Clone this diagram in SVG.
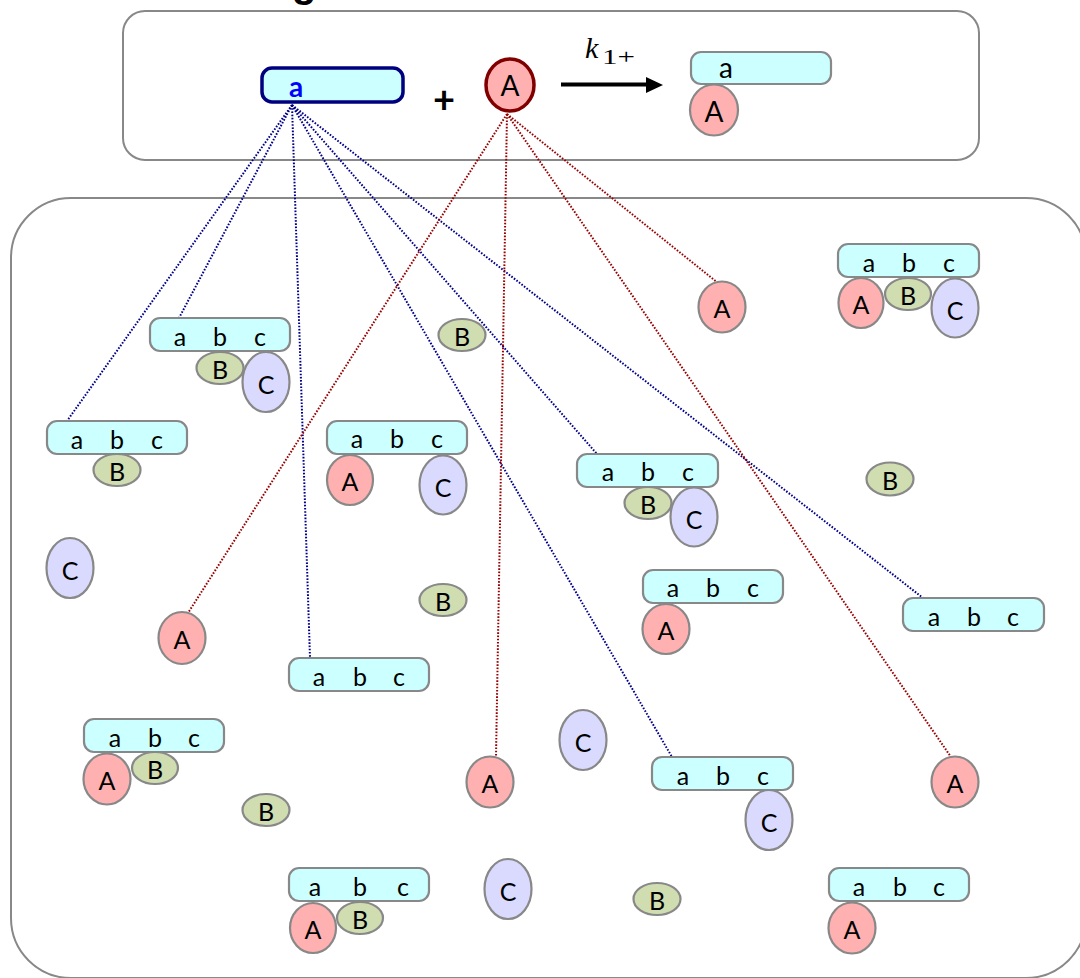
<svg xmlns="http://www.w3.org/2000/svg" width="1080" height="978" viewBox="0 0 1080 978">
<style>
.cont{fill:#fff;stroke:#888;stroke-width:2}
.bar{fill:#ccffff;stroke:#888;stroke-width:2.2}
.pa{fill:#ffb0b0;stroke:#888;stroke-width:2.2}
.pb{fill:#cfddb0;stroke:#888;stroke-width:2.2}
.pc{fill:#dadaff;stroke:#888;stroke-width:2.2}
.t{font-family:Lato,"Liberation Sans",sans-serif;font-size:25px;fill:#000;text-anchor:middle}
.tb{font-family:Lato,"Liberation Sans",sans-serif;font-size:28px;fill:#000;text-anchor:middle}
.nv{stroke:#00008b;stroke-width:2;stroke-dasharray:1.6 1.6;fill:none}
.rd{stroke:#990000;stroke-width:2;stroke-dasharray:1.6 1.6;fill:none}
</style>
<rect x="0" y="0" width="1080" height="978" fill="#fff"/>
<text x="292" y="-3" font-family="Liberation Sans, sans-serif" font-weight="bold" font-size="40" fill="#000">g</text>
<g id="reaction-box">
<rect class="cont" x="123" y="11" width="856" height="149" rx="22"/>
</g>
<g id="cell-box">
<rect class="cont" x="11" y="198" width="1075" height="780" rx="60"/>
</g>
<g id="connectors">
<line class="nv" x1="292" y1="105" x2="67" y2="421"/>
<line class="nv" x1="292" y1="105" x2="179" y2="318"/>
<line class="nv" x1="292" y1="105" x2="310" y2="658"/>
<line class="nv" x1="292" y1="105" x2="597" y2="454"/>
<line class="nv" x1="292" y1="105" x2="923" y2="598"/>
<line class="nv" x1="292" y1="105" x2="672" y2="757"/>
<line class="rd" x1="507" y1="114" x2="188" y2="613"/>
<line class="rd" x1="507" y1="114" x2="496" y2="757"/>
<line class="rd" x1="507" y1="114" x2="718" y2="283"/>
<line class="rd" x1="507" y1="114" x2="951" y2="757"/>
</g>
<g id="reactant-a">
<rect x="262" y="68" width="141" height="34" rx="10" fill="#ccffff" stroke="#00007f" stroke-width="3.5"/>
<text x="296" y="97" font-family="Lato, Liberation Sans, sans-serif" font-weight="bold" font-size="28" fill="#0000ff" text-anchor="middle">a</text>
</g>
<g id="plus">
<text x="444" y="113" font-family="Lato, Liberation Sans, sans-serif" font-weight="bold" font-size="38" fill="#000" text-anchor="middle">+</text>
</g>
<g id="reactant-A">
<ellipse cx="510" cy="85" rx="24" ry="26" fill="#ffb0b0" stroke="#800000" stroke-width="3.5"/>
<text class="tb" x="510" y="96">A</text>
</g>
<g id="rate-arrow">
<line x1="561" y1="84.5" x2="649" y2="84.5" stroke="#000" stroke-width="4"/>
<polygon points="646,77 663,85 646,93" fill="#000"/>
<text x="585" y="58" font-family="Liberation Serif, serif" font-style="italic" font-size="30" fill="#000">k</text>
<text x="602" y="64" font-family="Liberation Serif, serif" font-size="22" fill="#000" textLength="33" lengthAdjust="spacingAndGlyphs">1+</text>
</g>
<g id="product">
<rect class="bar" x="691" y="52" width="140" height="32" rx="10"/>
<text class="tb" x="726" y="78">a</text>
<ellipse class="pa" cx="714" cy="110" rx="24" ry="25.5"/>
<text class="tb" x="714" y="122">A</text>
</g>
<g id="n1">
<rect class="bar" x="150" y="318" width="140" height="33" rx="10"/>
<text class="t" x="180 200 220 240 260" y="346">a b c</text>
<ellipse class="pb" cx="220" cy="368" rx="23.5" ry="16"/><text class="t" x="220" y="379">B</text>
<ellipse class="pc" cx="266" cy="382" rx="23.5" ry="30"/><text class="t" x="266" y="394">C</text>
</g>
<g id="n2">
<rect class="bar" x="47" y="421" width="140" height="33" rx="10"/>
<text class="t" x="77 97 117 137 157" y="449">a b c</text>
<ellipse class="pb" cx="117" cy="470" rx="23.5" ry="16"/><text class="t" x="117" y="481">B</text>
</g>
<g id="n3">
<rect class="bar" x="838" y="244" width="141" height="33" rx="10"/>
<text class="t" x="869 889 909 929 949" y="272">a b c</text>
<ellipse class="pa" cx="861" cy="303" rx="22.5" ry="25"/><text class="t" x="861" y="314">A</text>
<ellipse class="pb" cx="908" cy="294" rx="23" ry="16"/><text class="t" x="908" y="305">B</text>
<ellipse class="pc" cx="955" cy="308" rx="23.5" ry="29.5"/><text class="t" x="955" y="320">C</text>
</g>
<g id="n4"><ellipse class="pa" cx="722" cy="307" rx="23.5" ry="25.5"/><text class="t" x="722" y="318">A</text></g>
<g id="n5"><ellipse class="pb" cx="462" cy="335" rx="23.5" ry="16"/><text class="t" x="462" y="346">B</text></g>
<g id="n6">
<rect class="bar" x="327" y="421" width="140" height="33" rx="10"/>
<text class="t" x="357 377 397 417 437" y="448">a b c</text>
<ellipse class="pa" cx="350" cy="480" rx="23" ry="25"/><text class="t" x="350" y="491">A</text>
<ellipse class="pc" cx="443" cy="485" rx="23.5" ry="29.5"/><text class="t" x="443" y="497">C</text>
</g>
<g id="n7">
<rect class="bar" x="577" y="454" width="141" height="33" rx="10"/>
<text class="t" x="608 628 648 668 688" y="481">a b c</text>
<ellipse class="pb" cx="648" cy="503" rx="23.5" ry="16"/><text class="t" x="648" y="514">B</text>
<ellipse class="pc" cx="694" cy="517" rx="23.5" ry="29.5"/><text class="t" x="694" y="529">C</text>
</g>
<g id="n8">
<rect class="bar" x="643" y="570" width="140" height="33" rx="10"/>
<text class="t" x="673 693 713 733 753" y="597">a b c</text>
<ellipse class="pa" cx="666" cy="629" rx="23.5" ry="25"/><text class="t" x="666" y="640">A</text>
</g>
<g id="n9"><ellipse class="pb" cx="890" cy="479" rx="23.5" ry="16.5"/><text class="t" x="890" y="490">B</text></g>
<g id="n10">
<rect class="bar" x="903" y="598" width="141" height="33" rx="10"/>
<text class="t" x="934 954 974 994 1013" y="626">a b c</text>
</g>
<g id="n11"><ellipse class="pc" cx="70" cy="568" rx="23.5" ry="30"/><text class="t" x="70" y="580">C</text></g>
<g id="n12"><ellipse class="pa" cx="182" cy="638" rx="23.5" ry="26"/><text class="t" x="182" y="649">A</text></g>
<g id="n13">
<rect class="bar" x="289" y="658" width="140" height="33" rx="10"/>
<text class="t" x="319 339 360 380 399" y="686">a b c</text>
</g>
<g id="n14"><ellipse class="pb" cx="443" cy="600" rx="23.5" ry="16"/><text class="t" x="443" y="611">B</text></g>
<g id="n15">
<rect class="bar" x="84" y="719" width="140" height="33" rx="10"/>
<text class="t" x="115 135 155 175 194" y="747">a b c</text>
<ellipse class="pa" cx="107" cy="779" rx="23.5" ry="25.5"/><text class="t" x="107" y="790">A</text>
<ellipse class="pb" cx="155" cy="768" rx="23" ry="16"/><text class="t" x="155" y="779">B</text>
</g>
<g id="n16"><ellipse class="pb" cx="266" cy="810" rx="23.5" ry="16"/><text class="t" x="266" y="821">B</text></g>
<g id="n17">
<rect class="bar" x="289" y="868" width="140" height="33" rx="10"/>
<text class="t" x="315 337 360 381 403" y="896">a b c</text>
<ellipse class="pa" cx="313" cy="928" rx="23" ry="25"/><text class="t" x="313" y="939">A</text>
<ellipse class="pb" cx="360" cy="918" rx="23" ry="16"/><text class="t" x="360" y="929">B</text>
</g>
<g id="n18"><ellipse class="pa" cx="490" cy="782" rx="23.5" ry="25.5"/><text class="t" x="490" y="793">A</text></g>
<g id="n19"><ellipse class="pc" cx="583" cy="740" rx="23.5" ry="30"/><text class="t" x="583" y="752">C</text></g>
<g id="n20"><ellipse class="pc" cx="508" cy="889" rx="23.5" ry="30"/><text class="t" x="508" y="901">C</text></g>
<g id="n21">
<rect class="bar" x="652" y="757" width="141" height="33" rx="10"/>
<text class="t" x="683 703 723 743 763" y="785">a b c</text>
<ellipse class="pc" cx="769" cy="820" rx="23.5" ry="30"/><text class="t" x="769" y="832">C</text>
</g>
<g id="n22"><ellipse class="pa" cx="955" cy="782" rx="23.5" ry="25.5"/><text class="t" x="955" y="793">A</text></g>
<g id="n23"><ellipse class="pb" cx="657" cy="899" rx="23.5" ry="16"/><text class="t" x="657" y="910">B</text></g>
<g id="n24">
<rect class="bar" x="829" y="868" width="140" height="33" rx="10"/>
<text class="t" x="859 879 900 920 939" y="896">a b c</text>
<ellipse class="pa" cx="852" cy="928" rx="23.5" ry="25.5"/><text class="t" x="852" y="939">A</text>
</g>
</svg>
